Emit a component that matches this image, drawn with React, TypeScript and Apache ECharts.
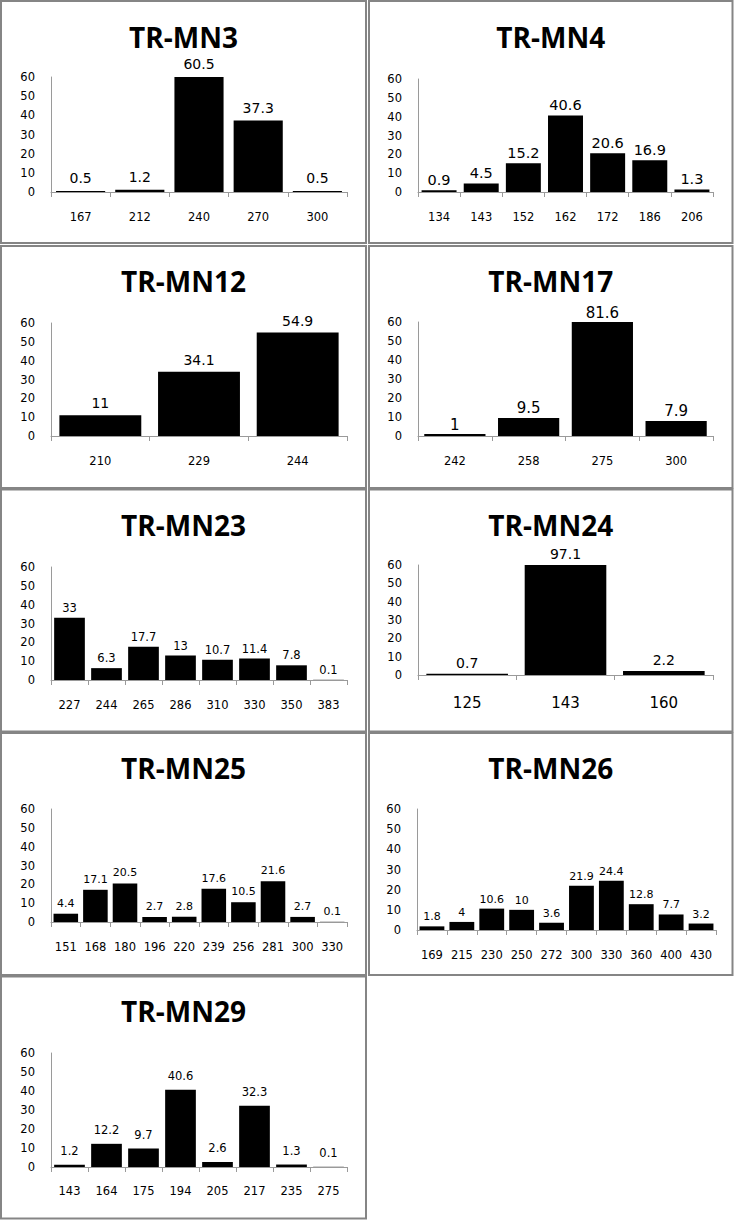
import React, { useEffect, useRef } from "react";
import * as echarts from "echarts";

// ---- data ----
const Y_MIN = 0;
const Y_MAX = 60;
const Y_STEP = 10;

const MN3_SIZES = ["167", "212", "240", "270", "300"];
const MN3_FREQ = [0.5, 1.2, 60.5, 37.3, 0.5];

const MN4_SIZES = ["134", "143", "152", "162", "172", "186", "206"];
const MN4_FREQ = [0.9, 4.5, 15.2, 40.6, 20.6, 16.9, 1.3];

const MN12_SIZES = ["210", "229", "244"];
const MN12_FREQ = [11, 34.1, 54.9];

const MN17_SIZES = ["242", "258", "275", "300"];
const MN17_FREQ = [1, 9.5, 81.6, 7.9];

const MN23_SIZES = ["227", "244", "265", "286", "310", "330", "350", "383"];
const MN23_FREQ = [33, 6.3, 17.7, 13, 10.7, 11.4, 7.8, 0.1];

const MN24_SIZES = ["125", "143", "160"];
const MN24_FREQ = [0.7, 97.1, 2.2];

const MN25_SIZES = ["151", "168", "180", "196", "220", "239", "256", "281", "300", "330"];
const MN25_FREQ = [4.4, 17.1, 20.5, 2.7, 2.8, 17.6, 10.5, 21.6, 2.7, 0.1];

const MN26_SIZES = ["169", "215", "230", "250", "272", "300", "330", "360", "400", "430"];
const MN26_FREQ = [1.8, 4, 10.6, 10, 3.6, 21.9, 24.4, 12.8, 7.7, 3.2];

const MN29_SIZES = ["143", "164", "175", "194", "205", "217", "235", "275"];
const MN29_FREQ = [1.2, 12.2, 9.7, 40.6, 2.6, 32.3, 1.3, 0.1];

const TITLES = ["TR-MN3", "TR-MN4", "TR-MN12", "TR-MN17", "TR-MN23", "TR-MN24", "TR-MN25", "TR-MN26", "TR-MN29"];
const SIZES = [MN3_SIZES, MN4_SIZES, MN12_SIZES, MN17_SIZES, MN23_SIZES, MN24_SIZES, MN25_SIZES, MN26_SIZES, MN29_SIZES];
const FREQS = [MN3_FREQ, MN4_FREQ, MN12_FREQ, MN17_FREQ, MN23_FREQ, MN24_FREQ, MN25_FREQ, MN26_FREQ, MN29_FREQ];

// ---- layout ----
const W = 735;
const H = 1220;
const COL_X = [1, 369];
const COL_W = [365, 363.5];
const ROW_Y = [1, 246, 489.5, 733, 976.5];
const BOX_H = 242;

const GRIDS = [
  { left: 51, top: 77, width: 296, height: 115 },
  { left: 418, top: 79, width: 295, height: 113 },
  { left: 51, top: 323, width: 296, height: 113 },
  { left: 418, top: 322, width: 295, height: 114 },
  { left: 51, top: 567, width: 296, height: 113 },
  { left: 418, top: 565, width: 295, height: 110 },
  { left: 51, top: 809, width: 296, height: 113 },
  { left: 417, top: 809, width: 299, height: 121 },
  { left: 51, top: 1053, width: 296, height: 114 },
];
const TITLE_Y = [36.5, 36.5, 281, 281, 525, 525, 768, 768, 1011];
const BAR_FONT = [14, 14.5, 14, 15, 11.5, 14, 11, 11, 11.5];
const BAR_DIST = [6, 3, 5, 2, 4, 4, 5, 4, 8];
const X_FONT = [11.5, 11.5, 11.5, 11.5, 11.5, 15, 11.5, 11.5, 11.5];
const X_MARGIN = [19, 19, 19, 19, 19, 20, 19, 19, 18];

const AXIS_FONT = "'DejaVu Sans', sans-serif";
const TITLE_FONT = "'Open Sans', sans-serif";
const BORDER = "#858585";
const AXIS_COLOR = "#9a9a9a";

export default function App() {
  const ref = useRef<HTMLDivElement | null>(null);

  useEffect(() => {
    if (!ref.current) return;
    const chart = echarts.init(ref.current, null, { renderer: "svg" });

    const grid: any[] = [];
    const xAxis: any[] = [];
    const yAxis: any[] = [];
    const series: any[] = [];
    const graphic: any[] = [];

    TITLES.forEach((title, i) => {
      const col = i % 2;
      const row = Math.floor(i / 2);
      graphic.push({
        type: "rect",
        shape: { x: COL_X[col], y: ROW_Y[row], width: COL_W[col], height: BOX_H },
        style: { fill: "none", stroke: BORDER, lineWidth: 2 },
        silent: true,
      });
      graphic.push({
        type: "text",
        x: COL_X[col] + COL_W[col] / 2,
        y: TITLE_Y[i],
        style: {
          text: title,
          fill: "#000",
          fontFamily: TITLE_FONT,
          fontWeight: "bold",
          fontSize: 28,
          align: "center",
          verticalAlign: "middle",
        },
        silent: true,
      });

      grid.push({ ...GRIDS[i], containLabel: false });
      xAxis.push({
        type: "category",
        gridIndex: i,
        data: SIZES[i],
        boundaryGap: true,
        axisLine: { show: true, lineStyle: { color: AXIS_COLOR, width: 1 } },
        axisTick: { show: true, alignWithLabel: false, length: 5, lineStyle: { color: AXIS_COLOR } },
        axisLabel: {
          color: "#000",
          fontFamily: AXIS_FONT,
          fontSize: X_FONT[i],
          margin: X_MARGIN[i],
          interval: 0,
        },
        splitLine: { show: false },
      });
      yAxis.push({
        type: "value",
        gridIndex: i,
        min: Y_MIN,
        max: Y_MAX,
        interval: Y_STEP,
        axisLine: { show: true, lineStyle: { color: AXIS_COLOR, width: 1 } },
        axisTick: { show: false },
        axisLabel: { color: "#000", fontFamily: AXIS_FONT, fontSize: 11.5, margin: 16 },
        splitLine: { show: false },
      });
      const vals = FREQS[i];
      series.push({
        type: "bar",
        xAxisIndex: i,
        yAxisIndex: i,
        data: vals.map((v) => Math.min(v, Y_MAX)),
        barCategoryGap: "17%",
        itemStyle: { color: "#000" },
        label: {
          show: true,
          position: "top",
          distance: BAR_DIST[i],
          color: "#000",
          fontFamily: AXIS_FONT,
          fontSize: BAR_FONT[i],
          formatter: (p: any) => String(vals[p.dataIndex]),
        },
        silent: true,
      });
    });

    chart.setOption({
      animation: false,
      backgroundColor: "#fff",
      grid,
      xAxis,
      yAxis,
      series,
      graphic,
    });

    return () => chart.dispose();
  }, []);

  return (
    <div
      ref={ref}
      style={{ position: "absolute", left: 0, top: 0, width: W, height: H, background: "#fff" }}
    />
  );
}
